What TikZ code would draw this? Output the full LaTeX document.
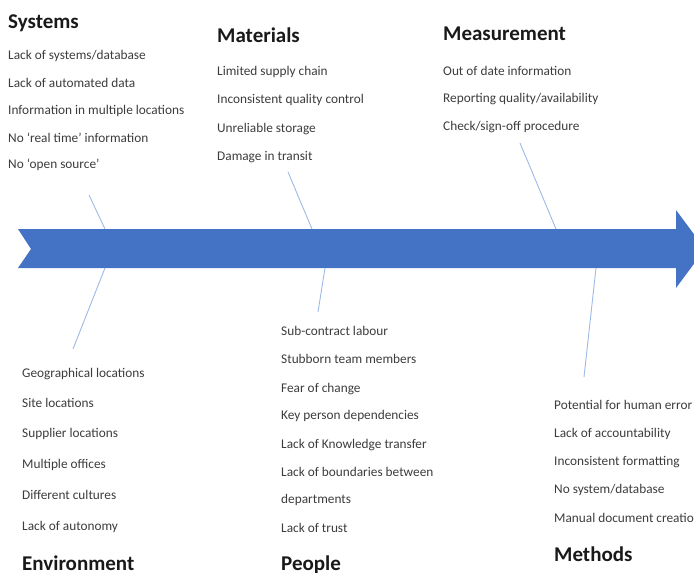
\documentclass[tikz,border=0pt]{standalone}
\usepackage{fontspec}
\setmainfont{Carlito}
\usepackage{xcolor}

\definecolor{spineblue}{HTML}{4472C4}
\definecolor{boneblue}{HTML}{9DB9E6}
\definecolor{itemgray}{HTML}{3C3C3C}

\tikzset{
	cause/.style={anchor=base west, inner sep=0pt, font=\fontsize{21}{24}\selectfont\bfseries, text=black!90},
	item/.style={anchor=base west, inner sep=0pt, font=\fontsize{13.3}{16}\selectfont, text=itemgray},
	bone/.style={draw=boneblue, line width=0.9pt}
}

\begin{document}
\begin{tikzpicture}[x=1pt, y=-1pt]
		\useasboundingbox (0,0) rectangle (694,573);

		% Spine of the fishbone
		\fill[spineblue] (18,229) -- (676,229) -- (676,210) -- (705,249) -- (676,288)
			-- (676,268) -- (18,268) -- (31,249) -- cycle;

		% Bone ends
		\coordinate (sysA) at (89,195);   \coordinate (sysB) at (105,229);
		\coordinate (envA) at (105,268);  \coordinate (envB) at (73,349);
		\coordinate (matA) at (288,172);  \coordinate (matB) at (312,229);
		\coordinate (pplA) at (325,268);  \coordinate (pplB) at (318,312);
		\coordinate (meaA) at (520,143);  \coordinate (meaB) at (556,229);
		\coordinate (metA) at (596,268);  \coordinate (metB) at (584,377);

		% Bones
		\draw[bone] (sysA) -- (sysB);
		\draw[bone] (envA) -- (envB);
		\draw[bone] (matA) -- (matB);
		\draw[bone] (pplA) -- (pplB);
		\draw[bone] (meaA) -- (meaB);
		\draw[bone] (metA) -- (metB);

		% Systems
		\node[cause] (sys) at (8,28) {Systems};
		\node[item] (sys1) at (8,59) {Lack of systems/database};
		\node[item] (sys2) at (8,87) {Lack of automated data};
		\node[item] (sys3) at (8,114) {Information in multiple locations};
		\node[item] (sys4) at (8,142) {No `real time' information};
		\node[item] (sys5) at (8,168) {No `open source'};

		% Materials
		\node[cause] (mat) at (217,42) {Materials};
		\node[item] (mat1) at (217,75) {Limited supply chain};
		\node[item] (mat2) at (217,103) {Inconsistent quality control};
		\node[item] (mat3) at (217,132) {Unreliable storage};
		\node[item] (mat4) at (217,160) {Damage in transit};

		% Measurement
		\node[cause] (mea) at (443,40) {Measurement};
		\node[item] (mea1) at (443,75) {Out of date information};
		\node[item] (mea2) at (443,102) {Reporting quality/availability};
		\node[item] (mea3) at (443,130) {Check/sign-off procedure};

		% Environment
		\node[item] (env1) at (22,377) {Geographical locations};
		\node[item] (env2) at (22,407) {Site locations};
		\node[item] (env3) at (22,437) {Supplier locations};
		\node[item] (env4) at (22,468) {Multiple offices};
		\node[item] (env5) at (22,499) {Different cultures};
		\node[item] (env6) at (22,530) {Lack of autonomy};
		\node[cause] (env) at (22,570) {Environment};

		% People
		\node[item] (ppl1) at (281,335) {Sub-contract labour};
		\node[item] (ppl2) at (281,363) {Stubborn team members};
		\node[item] (ppl3) at (281,392) {Fear of change};
		\node[item] (ppl4) at (281,419) {Key person dependencies};
		\node[item] (ppl5) at (281,448) {Lack of Knowledge transfer};
		\node[item] (ppl6) at (281,476) {Lack of boundaries between};
		\node[item] (ppl7) at (281,503) {departments};
		\node[item] (ppl8) at (281,532) {Lack of trust};
		\node[cause] (ppl) at (281,570) {People};

		% Methods
		\node[item] (met1) at (554,409) {Potential for human error};
		\node[item] (met2) at (554,437) {Lack of accountability};
		\node[item] (met3) at (554,465) {Inconsistent formatting};
		\node[item] (met4) at (554,493) {No system/database};
		\node[item] (met5) at (554,522) {Manual document creation};
		\node[cause] (met) at (554,561) {Methods};
	\end{tikzpicture}
\end{document}
